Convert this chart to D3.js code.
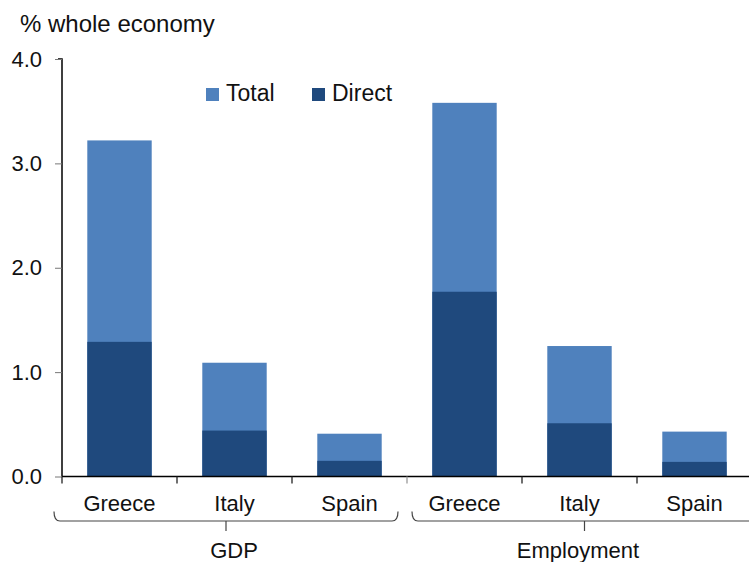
<!DOCTYPE html>
<html>
<head>
<meta charset="utf-8">
<script src="https://cdn.jsdelivr.net/npm/d3@7"></script>
<style>
  body { margin: 0; background: #fff; }
  text { font-family: "Liberation Sans", Arial, sans-serif; fill: #111; }
</style>
</head>
<body>
<div id="vizArea"></div>
<script>
const groups = ['GDP', 'Employment']
const countries = ['Greece', 'Italy', 'Spain']
const totalValues = [3.22, 1.09, 0.41, 3.58, 1.25, 0.43]
const directValues = [1.29, 0.44, 0.15, 1.77, 0.51, 0.14]
const yTicks = [0, 1, 2, 3, 4]

const data = []
groups.forEach((g, gi) => countries.forEach((c, ci) => {
    let i = gi * countries.length + ci
    data.push({ key: g + '-' + c, group: g, country: c, total: totalValues[i], direct: directValues[i] })
}))

const width = 749, height = 562
const margin = { top: 59, left: 62, bottom: 85 }
const bandW = 115

const svg = d3.select('#vizArea')
    .append('svg')
    .attr('width', width)
    .attr('height', height)

const x = d3.scaleBand().domain(data.map(d => d.key))
    .range([margin.left, margin.left + bandW * data.length])
    .paddingInner(0.44).paddingOuter(0.22)
const y = d3.scaleLinear().domain([0, 4]).range([height - margin.bottom - 0.5, margin.top])

const colTotal = '#4f81bd', colDirect = '#1f497d'

// bars
svg.selectAll('rect.total')
    .data(data)
    .enter()
    .append('rect')
    .attr('class', 'total')
    .attr('x', d => x(d.key))
    .attr('width', x.bandwidth())
    .attr('y', d => y(d.total))
    .attr('height', d => y(0) - y(d.total))
    .attr('fill', colTotal)

svg.selectAll('rect.direct')
    .data(data)
    .enter()
    .append('rect')
    .attr('class', 'direct')
    .attr('x', d => x(d.key))
    .attr('width', x.bandwidth())
    .attr('y', d => y(d.direct))
    .attr('height', d => y(0) - y(d.direct))
    .attr('fill', colDirect)

// y axis
const yAxis = svg.append('g')
    .attr('transform', `translate(${margin.left},0)`)
    .call(d3.axisLeft(y).tickValues(yTicks).tickFormat(d3.format('.1f')).tickSize(7).tickPadding(13))
yAxis.select('.domain').attr('stroke', '#000').attr('stroke-width', 1.5).attr('d', `M-4,${y(4)}H0V${y(0)}`)
yAxis.selectAll('.tick line').attr('stroke', '#777')
yAxis.selectAll('.tick text').style('font-size', '22px').attr('fill', '#111')

// x axis
const xPos = d3.scaleLinear().domain([0, data.length]).range([margin.left, margin.left + bandW * data.length])
svg.append('line')
    .attr('x1', margin.left).attr('x2', width)
    .attr('y1', y(0)).attr('y2', y(0))
    .attr('stroke', '#000').attr('stroke-width', 1.5)
svg.selectAll('line.xtick')
    .data(d3.range(data.length + 1))
    .enter()
    .append('line')
    .attr('class', 'xtick')
    .attr('x1', d => xPos(d)).attr('x2', d => xPos(d))
    .attr('y1', y(0)).attr('y2', y(0) + 7)
    .attr('stroke', d => d === 3 ? '#999' : '#222')
    .attr('stroke-width', 1.3)

svg.selectAll('text.cat')
    .data(data)
    .enter()
    .append('text')
    .attr('class', 'cat')
    .attr('x', d => x(d.key) + x.bandwidth() / 2)
    .attr('y', 511)
    .attr('text-anchor', 'middle')
    .style('font-size', '22px')
    .text(d => d.country)

// group brackets
const brackets = [
    { label: groups[0], x1: xPos(0) - 8, x2: xPos(3) - 9, tx: 234, ly: 558 },
    { label: groups[1], x1: xPos(3) + 5, x2: xPos(6) + 5, tx: 578, ly: 558 }
]
brackets.forEach(b => {
    let yb = 521, r = 6, cx = (b.x1 + b.x2) / 2
    svg.append('path')
        .attr('d', `M${b.x1},${yb - r * 1.6} Q${b.x1},${yb} ${b.x1 + r},${yb} H${b.x2 - r} Q${b.x2},${yb} ${b.x2},${yb - r * 1.6}`)
        .attr('fill', 'none').attr('stroke', '#444').attr('stroke-width', 1.2)
    svg.append('line')
        .attr('x1', cx).attr('x2', cx).attr('y1', yb).attr('y2', yb + 10)
        .attr('stroke', '#444').attr('stroke-width', 1.2)
    svg.append('text')
        .attr('x', b.tx)
        .attr('y', b.ly)
        .attr('text-anchor', 'middle')
        .style('font-size', '22px')
        .text(b.label)
})

// title
svg.append('text')
    .attr('x', 20).attr('y', 32)
    .style('font-size', '24px')
    .text('% whole economy')

// legend
const legend = [{ name: 'Total', color: colTotal, x: 206 }, { name: 'Direct', color: colDirect, x: 312 }]
legend.forEach(l => {
    svg.append('rect').attr('x', l.x).attr('y', 88).attr('width', 13).attr('height', 13).attr('fill', l.color)
    svg.append('text').attr('x', l.x + 20).attr('y', 101).style('font-size', '23px').text(l.name)
})
</script>
</body>
</html>
